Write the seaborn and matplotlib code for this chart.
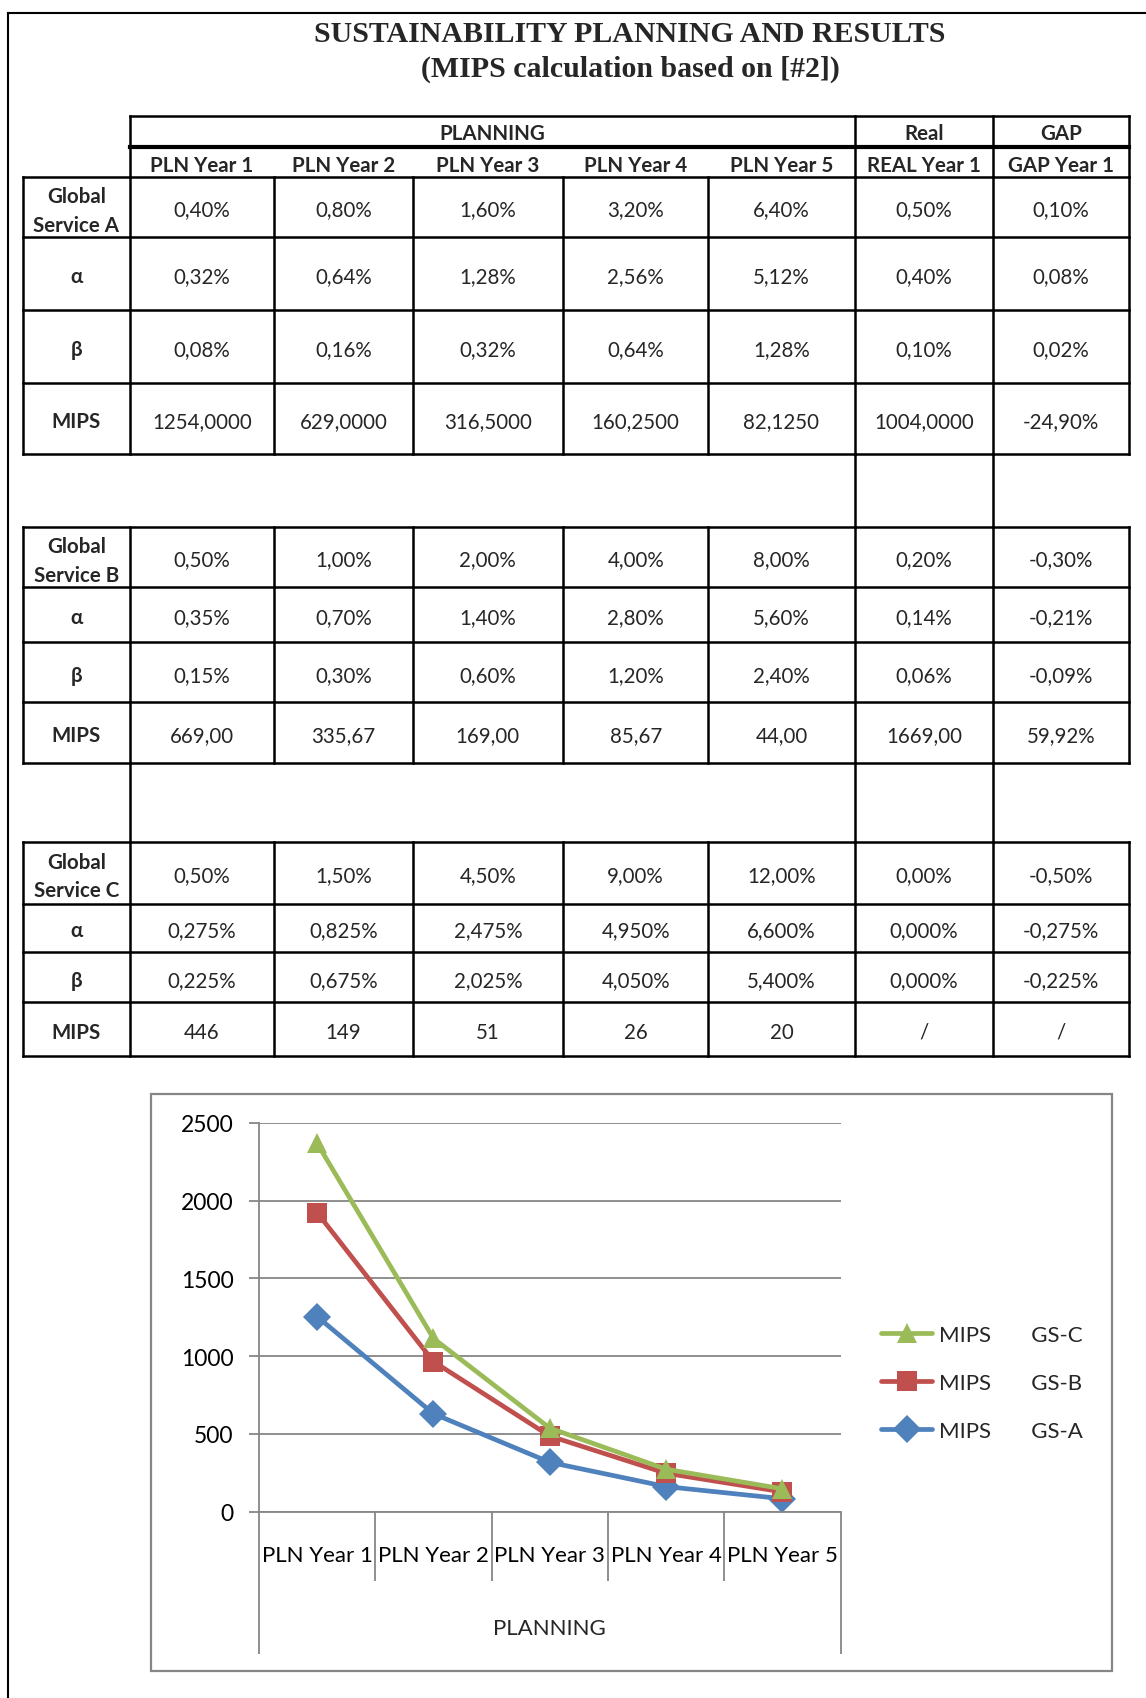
import numpy as np
import pandas as pd
import matplotlib
matplotlib.use("Agg")
import matplotlib.pyplot as plt
from matplotlib.lines import Line2D
from matplotlib.patches import Rectangle
import seaborn as sns

# ---------------- data ----------------
title_lines = ["SUSTAINABILITY PLANNING AND RESULTS", "(MIPS calculation based on [#2])"]
column_groups = ["PLANNING", "Real", "GAP"]
columns = ["PLN Year 1", "PLN Year 2", "PLN Year 3", "PLN Year 4", "PLN Year 5",
           "REAL Year 1", "GAP Year 1"]
years = columns[:5]
row_names = ["α", "β", "MIPS"]

# Global Service A
share_a = ["0,40%", "0,80%", "1,60%", "3,20%", "6,40%", "0,50%", "0,10%"]
alpha_a = ["0,32%", "0,64%", "1,28%", "2,56%", "5,12%", "0,40%", "0,08%"]
beta_a = ["0,08%", "0,16%", "0,32%", "0,64%", "1,28%", "0,10%", "0,02%"]
mips_a = [1254.0, 629.0, 316.5, 160.25, 82.125]
real_mips_a = 1004.0
gap_mips_a = "-24,90%"

# Global Service B
share_b = ["0,50%", "1,00%", "2,00%", "4,00%", "8,00%", "0,20%", "-0,30%"]
alpha_b = ["0,35%", "0,70%", "1,40%", "2,80%", "5,60%", "0,14%", "-0,21%"]
beta_b = ["0,15%", "0,30%", "0,60%", "1,20%", "2,40%", "0,06%", "-0,09%"]
mips_b = [669.00, 335.67, 169.00, 85.67, 44.00]
real_mips_b = 1669.00
gap_mips_b = "59,92%"

# Global Service C
share_c = ["0,50%", "1,50%", "4,50%", "9,00%", "12,00%", "0,00%", "-0,50%"]
alpha_c = ["0,275%", "0,825%", "2,475%", "4,950%", "6,600%", "0,000%", "-0,275%"]
beta_c = ["0,225%", "0,675%", "2,025%", "4,050%", "5,400%", "0,000%", "-0,225%"]
mips_c = [446, 149, 51, 26, 20]
real_mips_c = None
gap_mips_c = "/"

series_names = ["GS-A", "GS-B", "GS-C"]
series_colors = ["#4F81BD", "#C0504D", "#9BBB59"]
series_markers = ["D", "s", "^"]


def fmt_num(v, decimals):
    if v is None:
        return "/"
    return f"{v:.{decimals}f}".replace(".", ",")


sections = [
    ("Global\nService A", share_a, alpha_a, beta_a, mips_a, real_mips_a, gap_mips_a, 4),
    ("Global\nService B", share_b, alpha_b, beta_b, mips_b, real_mips_b, gap_mips_b, 2),
    ("Global\nService C", share_c, alpha_c, beta_c, mips_c, real_mips_c, gap_mips_c, 0),
]

# ---------------- figure ----------------
sns.set_theme(style="white")
plt.rcParams["font.family"] = ["Lato", "DejaVu Sans"]

W, H = 1146, 1699
fig = plt.figure(figsize=(W / 100, H / 100), dpi=100)
fig.patch.set_facecolor("white")

tab = fig.add_axes([0, 0, 1, 1])
tab.set_xlim(0, W)
tab.set_ylim(H, 0)
tab.axis("off")

LW = 1.8
LW_THICK = 3.0
FS = 14.8
DY = 2.5  # optical offset for vertically centred cell text


def hline(y, x0, x1, lw=LW, color="black"):
    tab.plot([x0, x1], [y, y], color=color, lw=lw, solid_capstyle="projecting")


def vline(x, y0, y1, lw=LW, color="black"):
    tab.plot([x, x], [y0, y1], color=color, lw=lw, solid_capstyle="projecting")


# page frame
hline(14, 8, W, lw=1.5)
vline(8, 14, H, lw=1.5)

# title
tab.text(630, 35, title_lines[0], ha="center", va="center", fontsize=21.5,
         weight="bold", family=["Liberation Serif", "DejaVu Serif"])
tab.text(630, 69.5, title_lines[1], ha="center", va="center", fontsize=21.5,
         weight="bold", family=["Liberation Serif", "DejaVu Serif"])

# column edges
X = [22.7, 130, 274, 412.7, 563, 708.4, 854.6, 993.3, 1128.7]
x_mid = [(X[i] + X[i + 1]) / 2 for i in range(len(X) - 1)]

# header rows
h0, h1, h2 = 117, 148.4, 177.6
hline(h0, X[1], X[-1])
hline(h1, X[1], X[-1], lw=LW_THICK)
for xv in (X[1], X[6], X[7], X[8]):
    vline(xv, h0, h2)
group_spans = [(X[1], X[6]), (X[6], X[7]), (X[7], X[8])]
for name, (a, b) in zip(column_groups, group_spans):
    tab.text((a + b) / 2, (h0 + h1) / 2 + 1.5, name, ha="center", va="center",
             fontsize=FS, weight="bold")
for j, name in enumerate(columns):
    tab.text(x_mid[j + 1], (h1 + h2) / 2 + 2.5, name, ha="center", va="center",
             fontsize=FS, weight="bold")

# body rows of each section
section_rows = [
    [177.6, 238.3, 310.9, 383.5, 455.0],
    [527.5, 588.2, 643.4, 703.0, 763.7],
    [842.7, 904.5, 953.2, 1003.0, 1057.2],
]

for (label, share, alpha, beta, mips, real_m, gap_m, dec), rows in zip(sections, section_rows):
    mips_row = [fmt_num(v, dec) for v in mips] + [fmt_num(real_m, dec), gap_m]
    body = [share, alpha, beta, mips_row]
    names = [label] + row_names
    for y in rows:
        hline(y, X[0], X[-1])
    for xv in X:
        vline(xv, rows[0], rows[-1])
    for r in range(4):
        yc = (rows[r] + rows[r + 1]) / 2 + DY
        tab.text(x_mid[0], yc + (1 if r == 0 else 0), names[r], ha="center",
                 va="center", fontsize=FS, weight="bold", linespacing=1.55)
        for j, val in enumerate(body[r]):
            tab.text(x_mid[j + 1], yc, val, ha="center", va="center", fontsize=FS)

# spacer rows between sections
for xv in (X[6], X[7]):
    vline(xv, 455.0, 527.5)
for xv in (X[1], X[6], X[7]):
    vline(xv, 763.7, 842.7)

# chart frame
GRAY = "#868686"
tab.add_patch(Rectangle((151, 1095), 1111.5 - 151, 1672 - 1095, fill=False,
                        edgecolor=GRAY, lw=1.6))

# ---------------- line chart (stacked MIPS) ----------------
stacked = np.cumsum(np.array([mips_a, mips_b, mips_c], dtype=float), axis=0)
positions = np.arange(len(years))
records = []
for name, vals in zip(series_names, stacked):
    for p, v in zip(positions, vals):
        records.append({"pos": p, "value": v, "series": name})
df = pd.DataFrame(records)

px0, px1 = 259, 840.6
py_top, py_bot = 1124, 1512.5
ax = fig.add_axes([px0 / W, 1 - py_bot / H, (px1 - px0) / W, (py_bot - py_top) / H])
ax.set_facecolor("none")

sns.lineplot(data=df, x="pos", y="value", hue="series", style="series",
             hue_order=series_names, style_order=series_names,
             palette=dict(zip(series_names, series_colors)),
             markers=dict(zip(series_names, series_markers)), dashes=False,
             lw=3.4, markersize=14, markeredgewidth=0, legend=False, ax=ax)

ax.set_xlim(-0.5, len(years) - 0.5)
ax.set_ylim(0, 2500)
ax.set_yticks(np.arange(0, 2501, 500))
ax.set_xticks(positions)
ax.set_xticklabels(years)
ax.set_xlabel("")
ax.set_ylabel("")
for s in ("top", "right"):
    ax.spines[s].set_visible(False)
for s in ("left", "bottom"):
    ax.spines[s].set_color(GRAY)
    ax.spines[s].set_linewidth(1.3)
ax.yaxis.grid(True, color=GRAY, lw=1.3)
ax.xaxis.grid(False)
ax.set_axisbelow(True)
ax.tick_params(axis="y", which="major", length=7.2, width=1.3, color=GRAY,
               labelsize=16.5, pad=11, labelcolor="black", left=True)
ax.tick_params(axis="x", which="major", length=0, labelsize=16, pad=24,
               labelcolor="black")

# category separators and the outer "PLANNING" level
ax_h = py_bot - py_top
inner = np.arange(0.5, len(years) - 0.5, 1.0)
ax.vlines(inner, -69 / ax_h, 0, transform=ax.get_xaxis_transform(),
          color=GRAY, lw=1.3, clip_on=False)
ax.vlines([-0.5, len(years) - 0.5], -142.5 / ax_h, 0,
          transform=ax.get_xaxis_transform(), color=GRAY, lw=1.3, clip_on=False)
ax.text(0.5, -(1629 - py_bot) / ax_h, column_groups[0], transform=ax.transAxes,
        ha="center", va="center", fontsize=16)

# legend
handles = [Line2D([], [], color=c, marker=m, lw=3.4, markersize=14, markeredgewidth=0)
           for c, m in zip(series_colors, series_markers)]
labels = [f"MIPS       {n}" for n in series_names]
fig.legend(handles[::-1], labels[::-1], loc="center left",
           bbox_to_anchor=(881 / W, 1 - 1384 / H), frameon=False, fontsize=16,
           handlelength=2.3, handletextpad=0.3, labelspacing=1.25,
           borderpad=0, borderaxespad=0)

fig.savefig("out.png", dpi=100, facecolor="white")
